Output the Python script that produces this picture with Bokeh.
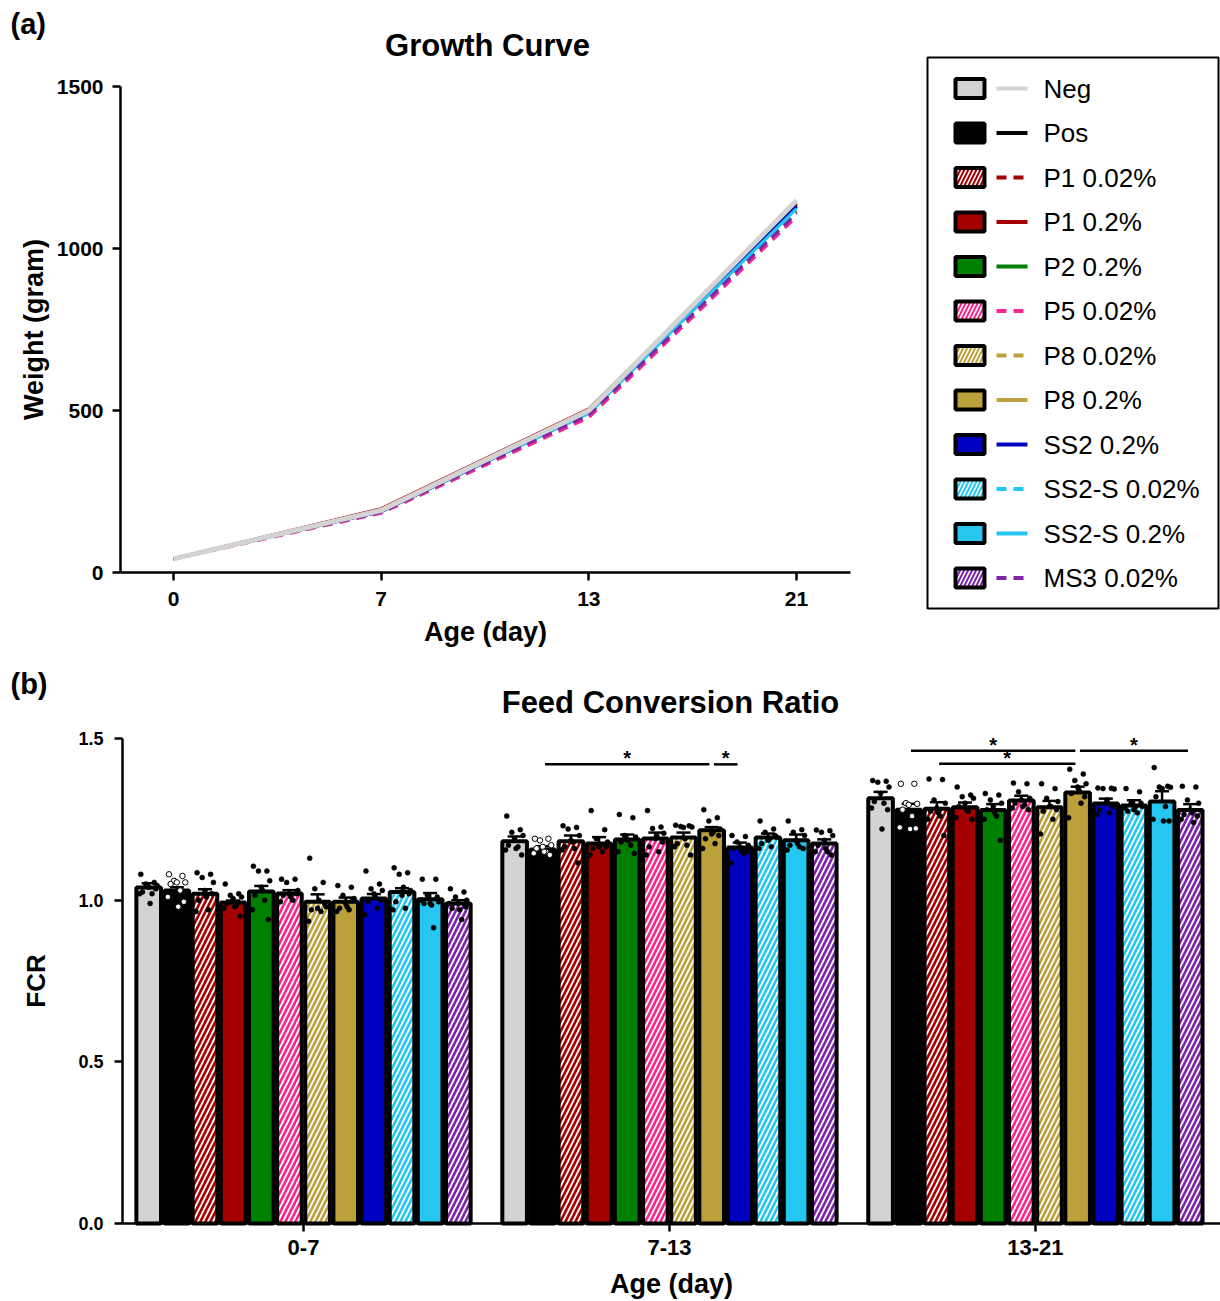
from bokeh.plotting import figure
from bokeh.layouts import column
from bokeh.models import Range1d, FixedTicker, ColumnDataSource, PrintfTickFormatter
from bokeh.core.properties import value
from bokeh.embed import file_html
from bokeh.resources import INLINE

# ---------------- data ----------------
groups = ["Neg", "Pos", "P1 0.02%", "P1 0.2%", "P2 0.2%", "P5 0.02%",
          "P8 0.02%", "P8 0.2%", "SS2 0.2%", "SS2-S 0.02%", "SS2-S 0.2%", "MS3 0.02%"]
colors = ["#d3d3d3", "#000000", "#a50000", "#a50000", "#008000", "#f7288c",
          "#bca03c", "#bca03c", "#0000c0", "#25c6f0", "#25c6f0", "#7d25aa"]
hatched = [False, False, True, False, False, True, True, False, False, True, False, True]

days = ["0", "7", "13", "21"]
weight_neg = [42, 192, 500, 1148]
weight_pos = [42, 188, 493, 1135]
weight_p1_002 = [42, 186, 488, 1115]
weight_p1_02 = [43, 197, 505, 1140]
weight_p2_02 = [42, 190, 495, 1130]
weight_p5_002 = [41, 183, 478, 1098]
weight_p8_002 = [42, 187, 487, 1112]
weight_p8_02 = [42, 190, 492, 1125]
weight_ss2_02 = [42, 188, 493, 1130]
weight_ss2s_002 = [42, 187, 488, 1110]
weight_ss2s_02 = [42, 189, 491, 1123]
weight_ms3_002 = [42, 186, 486, 1108]
weights = [weight_neg, weight_pos, weight_p1_002, weight_p1_02, weight_p2_02, weight_p5_002,
           weight_p8_002, weight_p8_02, weight_ss2_02, weight_ss2s_002, weight_ss2s_02, weight_ms3_002]

periods = ["0-7", "7-13", "13-21"]
fcr_0_7 = [1.039, 1.030, 1.020, 0.993, 1.027, 1.021, 0.995, 0.995, 1.005, 1.025, 1.003, 0.990]
fcr_7_13 = [1.182, 1.157, 1.182, 1.175, 1.188, 1.191, 1.194, 1.216, 1.163, 1.194, 1.185, 1.175]
fcr_13_21 = [1.315, 1.280, 1.283, 1.287, 1.279, 1.308, 1.287, 1.333, 1.299, 1.293, 1.305, 1.279]
sem_0_7 = [0.013, 0.010, 0.014, 0.006, 0.017, 0.010, 0.023, 0.013, 0.014, 0.012, 0.019, 0.010]
sem_7_13 = [0.015, 0.010, 0.018, 0.020, 0.015, 0.018, 0.015, 0.010, 0.015, 0.012, 0.018, 0.013]
sem_13_21 = [0.020, 0.018, 0.020, 0.015, 0.018, 0.015, 0.020, 0.018, 0.015, 0.016, 0.032, 0.018]

pts_0_7 = [
    [1.08, 1.055, 1.05, 1.045, 1.04, 1.025, 1.02, 1.02, 1.035, 0.99],
    [1.08, 1.075, 1.06, 1.055, 1.055, 1.05, 1.03, 1.01, 0.995, 0.98],
    [1.085, 1.08, 1.07, 1.055, 1.03, 1.0, 0.97, 0.965, 1.02, 1.01],
    [1.05, 1.02, 1.015, 1.01, 1.005, 0.99, 0.985, 0.975, 0.95, 0.98],
    [1.105, 1.09, 1.09, 1.06, 1.04, 1.015, 1.0, 0.97, 0.94, 1.03],
    [1.065, 1.065, 1.055, 1.03, 1.02, 1.015, 1.0, 0.995, 1.02, 1.01],
    [1.13, 1.055, 1.035, 0.98, 0.975, 0.97, 0.965, 0.935, 0.99, 1.0],
    [1.045, 1.04, 1.015, 1.005, 0.99, 0.975, 0.97, 0.965, 1.0, 0.98],
    [1.09, 1.05, 1.035, 1.03, 1.02, 0.995, 0.975, 0.955, 1.0, 1.01],
    [1.1, 1.085, 1.08, 1.03, 1.015, 0.995, 0.975, 0.97, 1.02, 1.04],
    [1.065, 1.065, 1.015, 0.995, 0.99, 0.99, 0.915, 1.0, 1.01, 0.985],
    [1.035, 1.025, 1.01, 1.0, 0.99, 0.975, 0.94, 0.99, 0.98, 0.97],
]
pts_7_13 = [
    [1.26, 1.218, 1.21, 1.2, 1.19, 1.17, 1.165, 1.155, 1.14, 1.16],
    [1.19, 1.19, 1.185, 1.17, 1.165, 1.16, 1.15, 1.145, 1.14, 1.15],
    [1.23, 1.225, 1.22, 1.2, 1.185, 1.165, 1.16, 1.155, 1.115, 1.18],
    [1.277, 1.218, 1.19, 1.18, 1.165, 1.16, 1.15, 1.14, 1.165, 1.17],
    [1.265, 1.255, 1.2, 1.195, 1.185, 1.18, 1.17, 1.15, 1.145, 1.185],
    [1.277, 1.226, 1.222, 1.207, 1.19, 1.165, 1.15, 1.14, 1.18, 1.2],
    [1.232, 1.23, 1.228, 1.226, 1.225, 1.175, 1.17, 1.165, 1.14, 1.19],
    [1.28, 1.255, 1.245, 1.22, 1.205, 1.19, 1.175, 1.16, 1.2, 1.21],
    [1.2, 1.197, 1.18, 1.17, 1.165, 1.16, 1.145, 1.115, 1.15, 1.155],
    [1.245, 1.22, 1.21, 1.195, 1.185, 1.175, 1.165, 1.16, 1.2, 1.19],
    [1.245, 1.218, 1.21, 1.2, 1.185, 1.17, 1.165, 1.155, 1.16, 1.175],
    [1.217, 1.215, 1.21, 1.2, 1.185, 1.17, 1.15, 1.15, 1.14, 1.16],
]
pts_13_21 = [
    [1.37, 1.368, 1.365, 1.35, 1.33, 1.305, 1.3, 1.285, 1.28, 1.22],
    [1.36, 1.36, 1.3, 1.298, 1.295, 1.28, 1.26, 1.225, 1.222, 1.22],
    [1.375, 1.373, 1.31, 1.3, 1.285, 1.275, 1.26, 1.25, 1.2, 1.27],
    [1.35, 1.325, 1.32, 1.315, 1.3, 1.29, 1.275, 1.255, 1.25, 1.28],
    [1.33, 1.325, 1.31, 1.3, 1.29, 1.28, 1.26, 1.25, 1.185, 1.27],
    [1.362, 1.36, 1.335, 1.315, 1.31, 1.3, 1.295, 1.285, 1.28, 1.29],
    [1.36, 1.345, 1.315, 1.305, 1.29, 1.275, 1.25, 1.205, 1.28, 1.29],
    [1.405, 1.39, 1.37, 1.36, 1.35, 1.33, 1.3, 1.255, 1.32, 1.34],
    [1.347, 1.346, 1.345, 1.344, 1.3, 1.28, 1.27, 1.265, 1.29, 1.31],
    [1.345, 1.335, 1.3, 1.29, 1.28, 1.275, 1.27, 1.285, 1.3, 1.29],
    [1.41, 1.352, 1.35, 1.349, 1.345, 1.32, 1.29, 1.25, 1.245, 1.245],
    [1.352, 1.35, 1.31, 1.3, 1.28, 1.265, 1.24, 1.25, 1.26, 1.27],
]
fcr_means = [fcr_0_7, fcr_7_13, fcr_13_21]
fcr_sems = [sem_0_7, sem_7_13, sem_13_21]
fcr_pts = [pts_0_7, pts_7_13, pts_13_21]

# significance brackets: (period index, from group, to group, height)
sig_period = [1, 1, 2, 2, 2]
sig_from = [1, 7, 1, 2, 7]
sig_to = [7, 8, 7, 7, 11]
sig_y = [1.42, 1.42, 1.462, 1.422, 1.462]

FONT = "Liberation Sans"
W = 1220
H1 = 660
H2 = 641


def style_axes(p):
    for ax in p.axis:
        ax.axis_line_width = 2.5
        ax.major_tick_line_width = 2.5
        ax.major_tick_out = 8
        ax.major_tick_in = 0
        ax.minor_tick_out = 0
        ax.minor_tick_in = 0
        ax.major_label_text_font = FONT
        ax.major_label_text_font_style = "bold"
        ax.major_label_text_color = "black"
        ax.axis_label_text_font = FONT
        ax.axis_label_text_font_style = "bold"
        ax.axis_label_text_color = "black"
    p.grid.visible = False
    p.outline_line_color = None
    p.background_fill_color = "white"
    p.border_fill_color = "white"
    p.title.visible = False


def ptext(p, x, y, txt, size, bold=True, align="left", baseline="middle"):
    p.text(x=[x], y=[y], text=[txt], x_range_name="px", y_range_name="px",
           text_font=value(FONT), text_font_style="bold" if bold else "normal",
           text_font_size=size, text_align=align, text_baseline=baseline, text_color="black")


# ---------------- (a) growth curve (frame = whole canvas, axes at fixed locations) ----------------
X0, XSTEP = 173.0, 207.67          # pixel of first day tick, pixel spacing of day ticks
Y0, YS = 572.0, 486.0 / 1500.0     # pixel of weight 0, pixels per gram
p1 = figure(width=W, height=H1,
            x_range=Range1d(-X0 / XSTEP, (W - X0) / XSTEP),
            y_range=Range1d(-(H1 - Y0) / YS, Y0 / YS),
            output_backend="svg", toolbar_location=None, min_border=0)
p1.extra_x_ranges = {"px": Range1d(0, W)}
p1.extra_y_ranges = {"px": Range1d(H1, 0)}

xpos = list(range(len(days)))
order = list(range(1, len(groups))) + [0]
for gi in order:
    p1.line(xpos, weights[gi], line_color=colors[gi],
            line_width=5 if gi == 0 else 3,
            line_dash="10 7" if hatched[gi] else "solid")

ax_left = (120 - X0) / XSTEP
p1.xaxis.fixed_location = 0
p1.xaxis.bounds = (ax_left, (850 - X0) / XSTEP)
p1.yaxis.fixed_location = ax_left
p1.yaxis.bounds = (0, 1500)
p1.xaxis.ticker = FixedTicker(ticks=xpos)
p1.xaxis.major_label_overrides = {i: d for i, d in enumerate(days)}
p1.yaxis.ticker = FixedTicker(ticks=[0, 500, 1000, 1500])
p1.xaxis.axis_label = "Age (day)"
p1.yaxis.axis_label = "Weight (gram)"
style_axes(p1)
p1.axis.major_label_text_font_size = "21px"
p1.axis.axis_label_text_font_size = "27px"
p1.xaxis.major_label_standoff = 11
p1.xaxis.axis_label_standoff = 8
p1.yaxis.major_label_standoff = 9
p1.yaxis.axis_label_standoff = 5

ptext(p1, 10, 23, "(a)", "29px")
ptext(p1, 487, 45, "Growth Curve", "31px", align="center")

# legend (drawn in pixel coordinates of the top panel)
p1.quad(left=[927], right=[1218], top=[57], bottom=[608], fill_color=None,
        line_color="black", line_width=2, x_range_name="px", y_range_name="px")
ly = [88 + 44.5 * i for i in range(len(groups))]
leg = ColumnDataSource(dict(
    y=ly, color=colors, name=groups,
    hatch=["/" if h else " " for h in hatched],
))
p1.rect(x=969.5, y="y", width=29, height=19, source=leg, fill_color="color",
        line_color="black", line_width=4, hatch_pattern="hatch", hatch_color="white",
        hatch_weight=1.6, hatch_scale=8, x_range_name="px", y_range_name="px")
for i in range(len(groups)):
    p1.line([996, 1027], [ly[i], ly[i]], line_color=colors[i], line_width=4,
            line_dash="10 7" if hatched[i] else "solid", x_range_name="px", y_range_name="px")
p1.text(x=1043, y="y", text="name", source=leg, text_font=value(FONT),
        text_font_size="26px", text_baseline="middle", text_align="left", text_color="black",
        x_range_name="px", y_range_name="px")

# ---------------- (b) FCR bars ----------------
G0, BSTEP = 303.0, 28.15           # pixel of first period centre, pixels per bar slot
F0, FS = 563.0, 485.0 / 1.5        # pixel of FCR 0 (in this panel), pixels per unit
p2 = figure(width=W, height=H2,
            x_range=Range1d(-G0 / BSTEP, (W - G0) / BSTEP),
            y_range=Range1d(-(H2 - F0) / FS, F0 / FS),
            output_backend="svg", toolbar_location=None, min_border=0)
p2.extra_x_ranges = {"px": Range1d(0, W)}
p2.extra_y_ranges = {"px": Range1d(H2, 0)}

ng = len(groups)
gap = ng + 1
bx, btop, bcol, bhatch = [], [], [], []
ex, elo, ehi = [], [], []
px, py, opx, opy = [], [], [], []
jit = [-0.28, 0.2, -0.1, 0.3, 0.0, -0.22, 0.12, -0.32, 0.25, 0.05]
for k in range(len(periods)):
    for i in range(ng):
        xc = k * gap + i - (ng - 1) / 2
        bx.append(xc)
        btop.append(fcr_means[k][i])
        bcol.append(colors[i])
        bhatch.append("/" if hatched[i] else " ")
        ex.append(xc)
        elo.append(fcr_means[k][i])
        ehi.append(fcr_means[k][i] + fcr_sems[k][i])
        for j, v in enumerate(fcr_pts[k][i]):
            if i == 1:
                opx.append(xc + jit[j % len(jit)])
                opy.append(v)
            else:
                px.append(xc + jit[j % len(jit)])
                py.append(v)
bars = ColumnDataSource(dict(x=bx, top=btop, color=bcol, hatch=bhatch))
p2.vbar(x="x", top="top", bottom=0, width=0.875, source=bars, fill_color="color",
        line_color="black", line_width=4, hatch_pattern="hatch", hatch_color="white",
        hatch_weight=1.8, hatch_scale=10)
p2.segment(x0=ex, y0=elo, x1=ex, y1=ehi, line_color="black", line_width=2.5)
p2.segment(x0=[x - 0.25 for x in ex], y0=ehi, x1=[x + 0.25 for x in ex], y1=ehi,
           line_color="black", line_width=2.5)
p2.scatter(px, py, size=5, fill_color="black", line_color="black", line_width=0.5)
p2.scatter(opx, opy, size=5.5, fill_color="white", line_color="black", line_width=1)

sx0, sx1, sxm = [], [], []
for k, a, b in zip(sig_period, sig_from, sig_to):
    xa = k * gap + a - (ng - 1) / 2
    xb = k * gap + b - (ng - 1) / 2
    sx0.append(xa + 0.08)
    sx1.append(xb - 0.08)
    sxm.append((xa + xb) / 2)
p2.segment(x0=sx0, y0=sig_y, x1=sx1, y1=sig_y, line_color="black", line_width=2.5)
p2.text(x=sxm, y=sig_y, text=["*"] * len(sxm), text_font=value(FONT), text_font_style="bold",
        text_font_size="20px", text_align="center", text_baseline="middle", y_offset=-6)

bx_left = (122 - G0) / BSTEP
p2.xaxis.fixed_location = 0
p2.xaxis.bounds = (bx_left, (W - G0) / BSTEP)
p2.yaxis.fixed_location = bx_left
p2.yaxis.bounds = (0, 1.5)
p2.xaxis.ticker = FixedTicker(ticks=[k * gap for k in range(len(periods))])
p2.xaxis.major_label_overrides = {k * gap: lab for k, lab in enumerate(periods)}
p2.yaxis.ticker = FixedTicker(ticks=[0, 0.5, 1.0, 1.5])
p2.yaxis.formatter = PrintfTickFormatter(format="%.1f")
p2.xaxis.axis_label = "Age (day)"
p2.yaxis.axis_label = "FCR"
style_axes(p2)
p2.xaxis.major_label_text_font_size = "22px"
p2.yaxis.major_label_text_font_size = "18px"
p2.xaxis.axis_label_text_font_size = "27px"
p2.yaxis.axis_label_text_font_size = "26px"
p2.xaxis.major_label_standoff = 8
p2.xaxis.axis_label_standoff = 11
p2.yaxis.major_label_standoff = 11
p2.yaxis.axis_label_standoff = 24

ptext(p2, 10, 23, "(b)", "29px")
ptext(p2, 670, 42, "Feed Conversion Ratio", "31px", align="center")

layout = column(p1, p2)
open("out.html", "w").write(file_html(layout, INLINE))
